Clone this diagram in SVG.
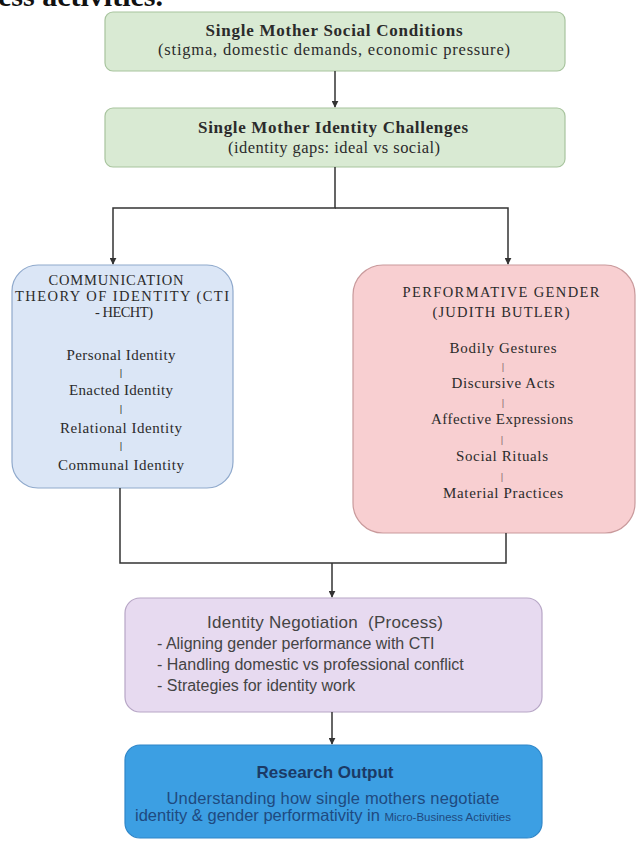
<svg xmlns="http://www.w3.org/2000/svg" width="639" height="841" viewBox="0 0 639 841">
<defs>
<marker id="ah" viewBox="0 0 10 10" refX="9" refY="5" markerWidth="7" markerHeight="7" orient="auto" markerUnits="userSpaceOnUse">
<path d="M0,0 L10,5 L0,10 z" fill="#333"/>
</marker>
<style>
.serif{font-family:"Liberation Serif","Times New Roman",serif;fill:#2b2b2b;}
.sans{font-family:"Liberation Sans",Arial,sans-serif;}
.t{font-size:17px;font-weight:bold;text-anchor:middle;}
.st{font-size:16.5px;text-anchor:middle;}
.h{font-size:14.5px;text-anchor:middle;}
.it{font-size:15px;text-anchor:middle;}
.sep{font-size:11px;text-anchor:middle;font-weight:bold;}
.conn{fill:none;stroke:#333;stroke-width:1.5;}
.green{fill:#d9ead3;stroke:#a8c49e;stroke-width:1.2;}
</style>
</defs>
<rect width="639" height="841" fill="#ffffff"/>
<text x="-2" y="6" class="serif" style="font-size:30px;font-weight:bold;fill:#111">ess activities.</text>

<g id="social-conditions">
<rect x="105" y="12" width="460" height="59" rx="8" class="green"/>
<text x="334" y="36" class="serif t" textLength="257">Single Mother Social Conditions</text>
<text x="334" y="55" class="serif st" textLength="352">(stigma, domestic demands, economic pressure)</text>
</g>

<g id="identity-challenges">
<rect x="105" y="108" width="460" height="59" rx="8" class="green"/>
<text x="333" y="133" class="serif t" textLength="270">Single Mother Identity Challenges</text>
<text x="334" y="153" class="serif st" textLength="212">(identity gaps: ideal vs social)</text>
</g>

<g id="cti">
<rect x="12" y="265" width="221" height="223" rx="26" fill="#dbe6f6" stroke="#8fa9cc" stroke-width="1.2"/>
<text x="116" y="285" class="serif h" textLength="135">COMMUNICATION</text>
<text x="122" y="301" class="serif h" textLength="214">THEORY OF IDENTITY (CTI</text>
<text x="124" y="317" class="serif h" textLength="58">- HECHT)</text>
<text x="121" y="360" class="serif it" textLength="109">Personal Identity</text>
<text x="121" y="376" class="serif sep">|</text>
<text x="121" y="395" class="serif it" textLength="104">Enacted Identity</text>
<text x="121" y="412" class="serif sep">|</text>
<text x="121" y="433" class="serif it" textLength="122">Relational Identity</text>
<text x="121" y="449" class="serif sep">|</text>
<text x="121" y="470" class="serif it" textLength="126">Communal Identity</text>
</g>

<g id="performative-gender">
<rect x="353" y="265" width="282" height="268" rx="30" fill="#f8cfd1" stroke="#c99a9c" stroke-width="1.2"/>
<text x="501" y="297" class="serif h" textLength="197">PERFORMATIVE GENDER</text>
<text x="501" y="317" class="serif h" textLength="137">(JUDITH BUTLER)</text>
<text x="503" y="353" class="serif it" textLength="107">Bodily Gestures</text>
<text x="503" y="370" class="serif sep" style="fill:#8a6a6c">|</text>
<text x="503" y="388" class="serif it" textLength="103">Discursive Acts</text>
<text x="503" y="406" class="serif sep" style="fill:#8a6a6c">|</text>
<text x="502" y="424" class="serif it" textLength="142">Affective Expressions</text>
<text x="502" y="443" class="serif sep" style="fill:#8a6a6c">|</text>
<text x="502" y="461" class="serif it" textLength="92">Social Rituals</text>
<text x="502" y="480" class="serif sep" style="fill:#8a6a6c">|</text>
<text x="503" y="498" class="serif it" textLength="120">Material Practices</text>
</g>

<g id="identity-negotiation">
<rect x="125" y="598" width="417" height="114" rx="15" fill="#e7daf0" stroke="#b7a6c6" stroke-width="1.2"/>
<text x="325" y="628" class="sans" style="font-size:17px;fill:#444;text-anchor:middle" textLength="236">Identity Negotiation&#160; (Process)</text>
<text x="157" y="649" class="sans" style="font-size:16px;fill:#444">- Aligning gender performance with CTI</text>
<text x="157" y="670" class="sans" style="font-size:16px;fill:#444">- Handling domestic vs professional conflict</text>
<text x="157" y="691" class="sans" style="font-size:16px;fill:#444">- Strategies for identity work</text>
</g>

<g id="research-output">
<rect x="125" y="745" width="417" height="93" rx="15" fill="#3c9fe3" stroke="#2f86c8" stroke-width="1.2"/>
<text x="325" y="778" class="sans" style="font-size:17px;font-weight:bold;fill:#1b3a66;text-anchor:middle">Research Output</text>
<text x="333" y="804" class="sans" style="font-size:16.5px;fill:#1f4a80;text-anchor:middle" textLength="333">Understanding how single mothers negotiate</text>
<text x="135" y="821" class="sans" style="font-size:16.5px;fill:#1f4a80">identity &amp; gender performativity in <tspan style="font-size:11.5px">Micro-Business Activities</tspan></text>
</g>

<g id="connectors">
<path class="conn" d="M335,71 V107" marker-end="url(#ah)"/>
<path class="conn" d="M335,167 V208 H113 V264" marker-end="url(#ah)"/>
<path class="conn" d="M335,208 H508 V264" marker-end="url(#ah)"/>
<path class="conn" d="M120,488 V563 H506 V533"/>
<path class="conn" d="M332,563 V597" marker-end="url(#ah)"/>
<path class="conn" d="M332,712 V744" marker-end="url(#ah)"/>
</g>
</svg>
